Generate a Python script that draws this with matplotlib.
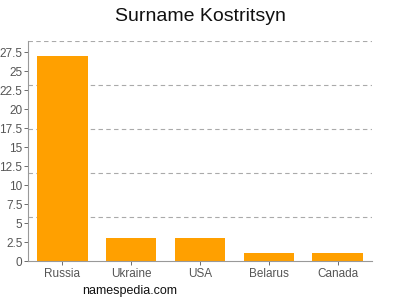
import matplotlib.pyplot as plt
from matplotlib.ticker import FixedLocator

countries = ["Russia", "Ukraine", "USA", "Belarus", "Canada"]
counts = [27, 3, 3, 1, 1]
yticks = [0, 2.5, 5, 7.5, 10, 12.5, 15, 17.5, 20, 22.5, 25, 27.5]
ytick_labels = ["0", "2.5", "5", "7.5", "10", "12.5", "15", "17.5", "20", "22.5", "25", "27.5"]
ymax = 29

plt.rcParams["font.family"] = ["Liberation Sans", "DejaVu Sans"]

fig = plt.figure(figsize=(4, 3), dpi=100)
ax = fig.add_axes([0.07, 0.13, 0.86, 0.733])

x = range(len(countries))
ax.bar(x, counts, width=0.73, color="#ffa000", zorder=2)

ax.set_xlim(-0.5, len(countries) - 0.5)
ax.set_ylim(0, ymax)
ax.set_xticks(list(x))
ax.set_xticklabels(countries)
ax.set_yticks(yticks)
ax.set_yticklabels(ytick_labels)

# grid lines sit at fifths of the axis, not on the ticks
ax.yaxis.set_minor_locator(FixedLocator([ymax * k / 5 for k in range(1, 6)]))
ax.grid(axis="y", which="minor", color="#aaaaaa", linestyle=(0, (4, 3)), linewidth=0.8, zorder=0)
ax.tick_params(axis="y", which="minor", length=0)

ax.tick_params(axis="both", which="major", labelsize=8.5, colors="#555555", length=3, width=0.6)
ax.tick_params(axis="y", which="major", pad=1)
ax.tick_params(axis="x", which="major", pad=2)
for side in ["top", "right"]:
    ax.spines[side].set_visible(False)
for side in ["left", "bottom"]:
    ax.spines[side].set_color("#999999")
    ax.spines[side].set_linewidth(0.8)

fig.text(0.5, 0.945, "Surname Kostritsyn", ha="center", va="center", fontsize=14, color="#111111")
fig.text(0.325, 0.03, "namespedia.com", ha="center", va="center", fontsize=9, color="#111111")

fig.savefig("out.png", dpi=100)
